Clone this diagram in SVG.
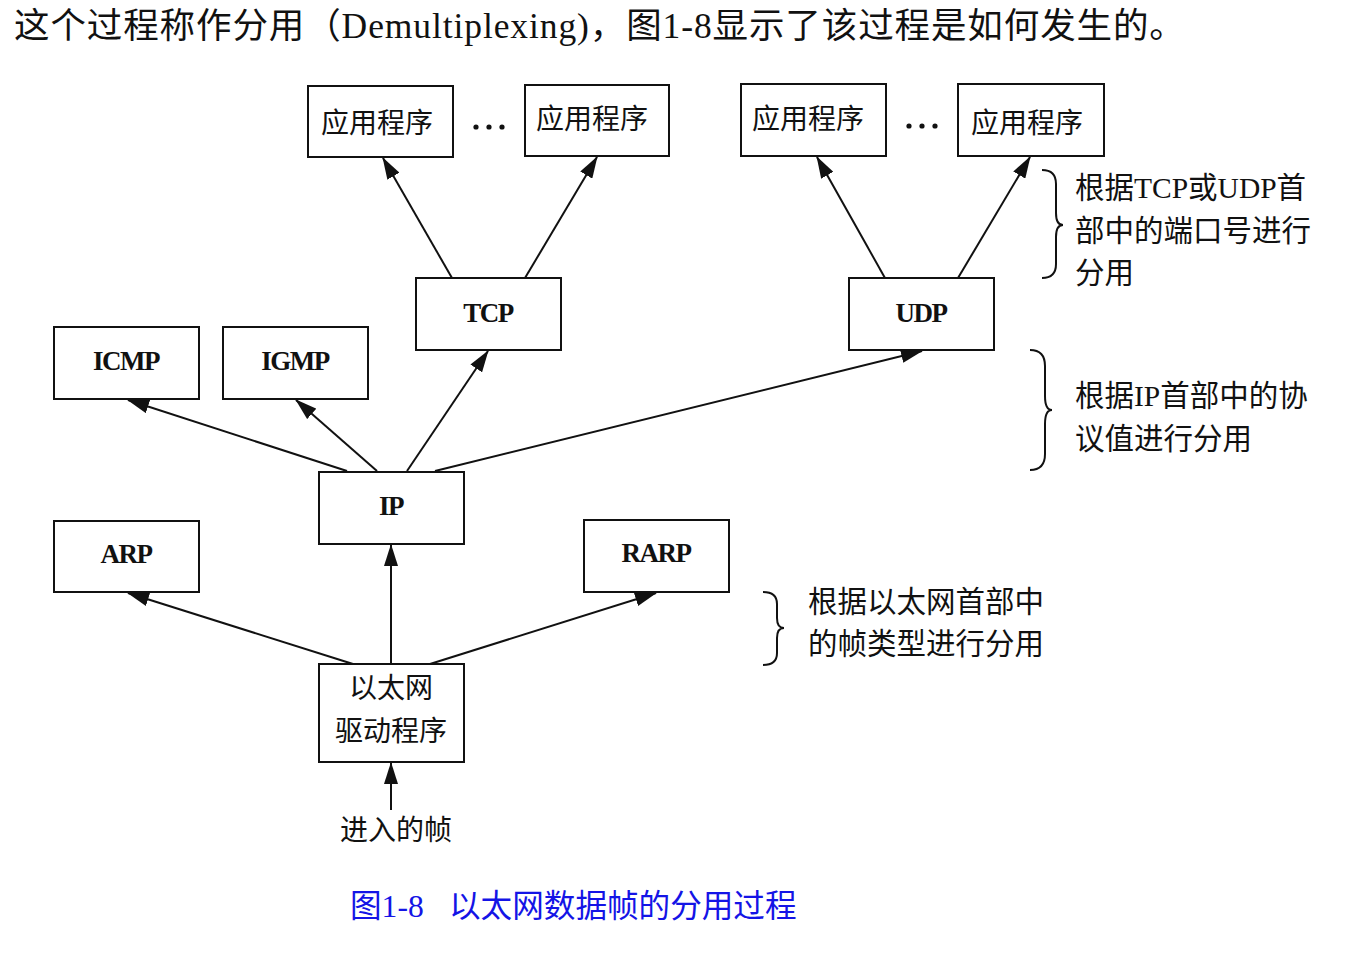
<svg xmlns="http://www.w3.org/2000/svg" width="1348" height="954" viewBox="0 0 1348 954">
  <style>
    .box { fill: #fff; stroke: #111; stroke-width: 2; }
    .cjk { font-family: "Noto Sans CJK SC", sans-serif; font-size: 28px; fill: #111; }
    .mix { font-family: "Liberation Serif", "Noto Sans CJK SC", serif; font-size: 29.5px; fill: #111; }
    .proto { font-family: "Liberation Serif", serif; font-size: 27px; font-weight: bold; fill: #111; text-anchor: middle; letter-spacing: -1.5px; }
    .edge { stroke: #111; stroke-width: 2; fill: none; marker-end: url(#arrow); }
    .brace { stroke: #111; stroke-width: 2; fill: none; }
    .dot { fill: #111; }
  </style>
  <defs>
    <marker id="arrow" markerUnits="userSpaceOnUse" markerWidth="22" markerHeight="14" refX="21" refY="7" orient="auto">
      <path d="M0,0 L22,7 L0,14 z" fill="#111"/>
    </marker>
  </defs>
  <rect width="1348" height="954" fill="#fff"/>

  <!-- heading line -->
  <text x="14" y="38" font-family="Liberation Serif, Noto Sans CJK SC, serif" font-size="35.5" letter-spacing="0.9" fill="#111">这个过程称作分用（Demultiplexing)，图1-8显示了该过程是如何发生的。</text>

  <!-- connectors -->
  <g id="connectors">
    <line class="edge" x1="452" y1="278" x2="383" y2="158"/>
    <line class="edge" x1="525" y1="278" x2="597" y2="157"/>
    <line class="edge" x1="885" y1="278" x2="817" y2="157"/>
    <line class="edge" x1="958" y1="278" x2="1030" y2="157"/>
    <line class="edge" x1="347" y1="471" x2="128" y2="400"/>
    <line class="edge" x1="377" y1="471" x2="296" y2="400"/>
    <line class="edge" x1="407" y1="471" x2="488" y2="351"/>
    <line class="edge" x1="435" y1="471" x2="922" y2="351"/>
    <line class="edge" x1="391" y1="664" x2="391" y2="545"/>
    <line class="edge" x1="353" y1="664" x2="128" y2="593"/>
    <line class="edge" x1="430" y1="664" x2="656" y2="593"/>
    <line class="edge" x1="391" y1="810" x2="391" y2="763"/>
  </g>

  <!-- application boxes -->
  <g id="app1">
    <rect class="box" x="308" y="86" width="145" height="71"/>
    <text class="cjk" x="321" y="133">应用程序</text>
  </g>
  <g id="app2">
    <rect class="box" x="525" y="85" width="144" height="71"/>
    <text class="cjk" x="536" y="129">应用程序</text>
  </g>
  <g id="app3">
    <rect class="box" x="741" y="84" width="145" height="72"/>
    <text class="cjk" x="752" y="129">应用程序</text>
  </g>
  <g id="app4">
    <rect class="box" x="958" y="84" width="146" height="72"/>
    <text class="cjk" x="971" y="133">应用程序</text>
  </g>
  <g id="ellipsis-left">
    <circle class="dot" cx="476" cy="127" r="2.6"/>
    <circle class="dot" cx="489" cy="127" r="2.6"/>
    <circle class="dot" cx="502" cy="127" r="2.6"/>
  </g>
  <g id="ellipsis-right">
    <circle class="dot" cx="909" cy="126" r="2.6"/>
    <circle class="dot" cx="922" cy="126" r="2.6"/>
    <circle class="dot" cx="935" cy="126" r="2.6"/>
  </g>

  <!-- transport layer -->
  <g id="tcp">
    <rect class="box" x="416" y="278" width="145" height="72"/>
    <text class="proto" x="488" y="322">TCP</text>
  </g>
  <g id="udp">
    <rect class="box" x="849" y="278" width="145" height="72"/>
    <text class="proto" x="921" y="322">UDP</text>
  </g>

  <!-- network layer -->
  <g id="icmp">
    <rect class="box" x="54" y="327" width="145" height="72"/>
    <text class="proto" x="126" y="370">ICMP</text>
  </g>
  <g id="igmp">
    <rect class="box" x="223" y="327" width="145" height="72"/>
    <text class="proto" x="295" y="370">IGMP</text>
  </g>
  <g id="ip">
    <rect class="box" x="319" y="472" width="145" height="72"/>
    <text class="proto" x="391" y="515">IP</text>
  </g>
  <g id="arp">
    <rect class="box" x="54" y="521" width="145" height="71"/>
    <text class="proto" x="126" y="563">ARP</text>
  </g>
  <g id="rarp">
    <rect class="box" x="584" y="520" width="145" height="72"/>
    <text class="proto" x="656" y="562">RARP</text>
  </g>

  <!-- link layer -->
  <g id="ethernet-driver">
    <rect class="box" x="319" y="664" width="145" height="98"/>
    <text class="cjk" x="391" y="698" text-anchor="middle">以太网</text>
    <text class="cjk" x="391" y="741" text-anchor="middle">驱动程序</text>
  </g>
  <g id="incoming-frame">
    <text class="cjk" x="396" y="840" text-anchor="middle">进入的帧</text>
  </g>

  <!-- annotations -->
  <g id="note-ports">
    <path class="brace" d="M1042,170 Q1056,170 1056,184 L1056,213 Q1056,225 1063,225 Q1056,225 1056,237 L1056,264 Q1056,278 1042,278"/>
    <text class="mix" x="1075" y="198">根据TCP或UDP首</text>
    <text class="mix" x="1075" y="241">部中的端口号进行</text>
    <text class="mix" x="1075" y="283">分用</text>
  </g>
  <g id="note-protocol">
    <path class="brace" d="M1030,350 Q1045,350 1045,366 L1045,396 Q1045,410 1052,410 Q1045,410 1045,424 L1045,454 Q1045,470 1030,470"/>
    <text class="mix" x="1075" y="406">根据IP首部中的协</text>
    <text class="mix" x="1075" y="449">议值进行分用</text>
  </g>
  <g id="note-frametype">
    <path class="brace" d="M763,592 Q777,592 777,604 L777,618 Q777,628 784,628 Q777,628 777,638 L777,653 Q777,665 763,665"/>
    <text class="mix" x="808" y="612">根据以太网首部中</text>
    <text class="mix" x="808" y="654">的帧类型进行分用</text>
  </g>

  <!-- caption -->
  <text x="350" y="917" font-family="Liberation Serif, Noto Sans CJK SC, serif" font-size="31.6" fill="#1414e6">图1-8<tspan x="449">以太网数据帧的分用过程</tspan></text>
</svg>
